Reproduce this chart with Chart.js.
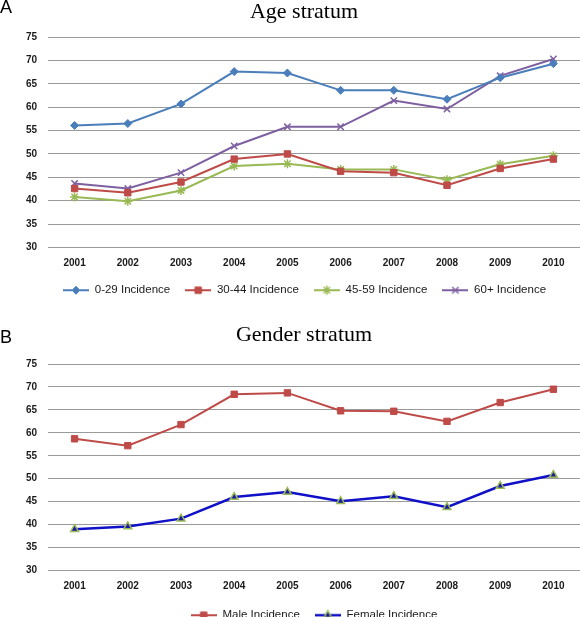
<!DOCTYPE html>
<html>
<head>
<meta charset="utf-8">
<script src="https://cdn.jsdelivr.net/npm/chart.js@4/dist/chart.umd.min.js"></script>
<style>
  html, body { margin: 0; padding: 0; background: #fff; }
  #wrap { position: relative; width: 580px; height: 617px; overflow: hidden; background: #fff; }
  .panel { position: absolute; left: 0; width: 580px; }
  .letter { position: absolute; left: 0; font: 18px/18px "Liberation Sans", Arial, sans-serif; color: #000; }
  .ttl { position: absolute; left: 154px; width: 300px; text-align: center; font: 22px/22px "Liberation Serif", "Times New Roman", serif; color: #000; }
  canvas { display: block; }
</style>
</head>
<body>
<div id="wrap">
  <div class="panel" style="top:0;height:306px">
    <canvas id="cA" width="580" height="306"></canvas>
    <div class="letter" style="top:-2px">A</div>
    <div class="ttl" style="top:0px">Age stratum</div>
  </div>
  <div class="panel" style="top:305px;height:326px">
    <canvas id="cB" width="580" height="326"></canvas>
    <div class="letter" style="top:23px">B</div>
    <div class="ttl" style="top:18px">Gender stratum</div>
  </div>
</div>
<script>
// ---- data ----
const years = ["2001","2002","2003","2004","2005","2006","2007","2008","2009","2010"];
const inc0to29  = [56.1, 56.5, 60.7, 67.6, 67.3, 63.6, 63.6, 61.7, 66.3, 69.3];
const inc30to44 = [42.6, 41.7, 44.0, 48.9, 50.0, 46.3, 46.0, 43.3, 46.9, 48.9];
const inc45to59 = [40.8, 39.9, 42.2, 47.4, 47.9, 46.7, 46.7, 44.5, 47.8, 49.6];
const inc60plus = [43.7, 42.6, 46.0, 51.7, 55.8, 55.8, 61.4, 59.6, 66.7, 70.3];
const incMale   = [58.7, 57.2, 61.8, 68.4, 68.7, 64.8, 64.7, 62.5, 66.6, 69.5];
const incFemale = [39.0, 39.6, 41.3, 46.0, 47.1, 45.1, 46.2, 43.8, 48.4, 50.8];
const yMin = 30, yMax = 75, yStep = 5;

const tickFont = { family: '"Liberation Sans", Arial, sans-serif', size: 10, weight: 'bold' };
const legendFont = { family: '"Liberation Sans", Arial, sans-serif', size: 11.5 };

function legendImage(ds) {
  const c = document.createElement('canvas');
  c.width = 26; c.height = 12;
  const ctx = c.getContext('2d');
  ctx.strokeStyle = ds.borderColor;
  ctx.lineWidth = ds.borderWidth;
  ctx.beginPath(); ctx.moveTo(0, 6); ctx.lineTo(26, 6); ctx.stroke();
  ctx.fillStyle = ds.pointBackgroundColor || ds.borderColor;
  ctx.strokeStyle = ds.pointBorderColor || ds.borderColor;
  ctx.lineWidth = ds.pointBorderWidth || 1;
  Chart.helpers.drawPoint(ctx, { pointStyle: ds.pointStyle, radius: ds.pointRadius, rotation: 0, borderWidth: ds.pointBorderWidth || 1 }, 13, 6);
  return c;
}

function makeChart(id, datasets, padTop, xHeight, legendAlign) {
  return new Chart(document.getElementById(id), {
    type: 'line',
    data: { labels: years, datasets: datasets },
    options: {
      responsive: false,
      animation: false,
      layout: { autoPadding: false, padding: { top: padTop, right: 0, left: 0, bottom: 0 } },
      scales: {
        x: {
          offset: true,
          grid: { display: false, drawTicks: true, tickLength: 10 },
          border: { display: false },
          ticks: { font: tickFont, color: '#1a1a1a', padding: 0, maxRotation: 0 },
          afterFit: s => { s.height = xHeight; }
        },
        y: {
          min: yMin, max: yMax,
          grid: { color: '#9a9a9a', lineWidth: 1, drawTicks: false },
          border: { display: false },
          ticks: { stepSize: yStep, font: tickFont, color: '#1a1a1a', padding: 11 },
          afterFit: s => { s.width = 48; }
        }
      },
      plugins: {
        title: { display: false },
        tooltip: { enabled: false },
        legend: {
          position: 'bottom',
          fullSize: false,
          align: legendAlign,
          labels: {
            font: legendFont,
            color: '#1a1a1a',
            usePointStyle: true,
            pointStyleWidth: 26,
            boxHeight: 12,
            padding: 15,
            generateLabels: chart => {
              const items = Chart.defaults.plugins.legend.labels.generateLabels(chart);
              items.forEach((it, i) => { it.pointStyle = legendImage(chart.data.datasets[i]); });
              return items;
            }
          }
        }
      }
    }
  });
}

function series(label, data, color, style, radius, extra) {
  return Object.assign({
    label, data,
    borderColor: color, backgroundColor: color,
    pointBackgroundColor: color, pointBorderColor: color,
    borderWidth: 2, pointStyle: style, pointRadius: radius, pointBorderWidth: 1,
    tension: 0, fill: false
  }, extra || {});
}

makeChart('cA', [
  series('0-29 Incidence', inc0to29, '#4A7EBB', 'rectRot', 4),
  series('30-44 Incidence', inc30to44, '#BE4B48', 'rect', 4.5),
  series('45-59 Incidence', inc45to59, '#98B954', 'star', 4.5, { pointBorderWidth: 1.5 }),
  series('60+ Incidence', inc60plus, '#7D60A0', 'crossRot', 4.5, { pointBorderWidth: 1.5 })
], 37, 22, 'start');

makeChart('cB', [
  series('Male Incidence', incMale, '#BE4B48', 'rect', 4.5),
  series('Female Incidence', incFemale, '#1010C8', 'triangle', 4.5,
    { borderWidth: 2.5, pointBackgroundColor: '#1a1aa0', pointBorderColor: '#9BBB59', pointBorderWidth: 1.5 })
], 59, 24, 'center');
</script>
</body>
</html>
